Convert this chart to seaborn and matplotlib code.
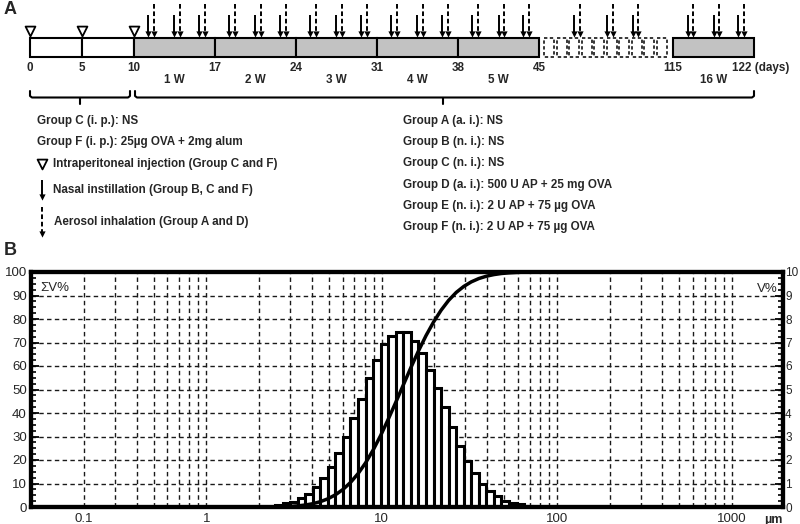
import numpy as np
import pandas as pd
import matplotlib
matplotlib.use("Agg")
import matplotlib.pyplot as plt
import seaborn as sns
from matplotlib.patches import Rectangle
from matplotlib.ticker import MultipleLocator, LogLocator, NullFormatter

# ---------------- Panel A data (schedule) ----------------
day_ticks = [0, 5, 10, 17, 24, 31, 38, 45, 115, 122]
day_tick_labels = ["0", "5", "10", "17", "24", "31", "38", "45", "115", "122 (days)"]
week_starts = [10, 17, 24, 31, 38, 115]
week_labels = ["1 W", "2 W", "3 W", "4 W", "5 W", "16 W"]
ip_days = [0, 5, 10]
dose_offsets = [1.5, 3.75, 5.9]
gap_dose_days = [65, 82, 95.5]
left_texts = ["Group C (i. p.): NS", "Group F (i. p.): 25µg OVA + 2mg alum"]
legend_texts = ["Intraperitoneal injection (Group C and F)",
                "Nasal instillation (Group B, C and F)",
                "Aerosol inhalation (Group A and D)"]
right_texts = ["Group A (a. i.): NS",
               "Group B (n. i.): NS",
               "Group C (n. i.): NS",
               "Group D (a. i.): 500 U AP + 25 mg OVA",
               "Group E (n. i.): 2 U AP + 75 µg OVA",
               "Group F (n. i.): 2 U AP + 75 µg OVA"]

# ---------------- Panel B data (particle size) ----------------
bin_edges_um = [2.466, 2.723, 3.006, 3.320, 3.666, 4.049, 4.471, 4.937, 5.452,
                6.021, 6.648, 7.342, 8.103, 8.948, 9.883, 10.91, 12.05, 13.31,
                14.70, 16.23, 17.92, 19.79, 21.85, 24.13, 26.65, 29.43, 32.49,
                35.88, 39.63, 43.75, 48.31, 53.35, 58.91, 65.06, 71.84]
volume_pct = [0.09, 0.16, 0.23, 0.37, 0.56, 0.87, 1.23, 1.72, 2.29, 3.00, 3.79,
              4.60, 5.50, 6.27, 6.92, 7.29, 7.46, 7.46, 7.08, 6.57, 5.85, 5.06,
              4.24, 3.39, 2.58, 1.96, 1.43, 1.00, 0.69, 0.47, 0.27, 0.18, 0.13, 0.06]
curve_end_um = 100
xtick_pos = [0.2, 1, 10, 100, 1000]
xtick_labels = ["0.1", "1", "10", "100", "1000"]

# ---------------- style ----------------
sns.set_style("white")
plt.rcParams["font.family"] = ["Liberation Sans", "DejaVu Sans"]

W, H = 800, 524
fig = plt.figure(figsize=(8, 5.24), dpi=100)

# ======== Panel A (schematic, pixel layout) ========
axA = fig.add_axes([0, 0, 1, 1])
axA.set_xlim(0, W)
axA.set_ylim(H, 0)
axA.axis("off")

DAY_BREAKS = [0, 10, 45, 115, 122]
X_BREAKS = [30, 133.5, 539, 673, 754]


def dx(d):
    return np.interp(d, DAY_BREAKS, X_BREAKS)


GRAY = "#c2c2c2"
bar_y, bar_h = 38.3, 18.4
for a, b in zip(day_ticks[:-1], day_ticks[1:]):
    if a == 45:
        continue
    fc = "white" if b <= 10 else GRAY
    axA.add_patch(Rectangle((dx(a), bar_y), dx(b) - dx(a), bar_h,
                            facecolor=fc, edgecolor="black", lw=1.5, zorder=2))

# dashed boxes in the gap
n_box = 10
gx0, gx1, ggap = dx(45) + 5, dx(115) - 6, 2.6
bw = (gx1 - gx0 - (n_box - 1) * ggap) / n_box
for i in range(n_box):
    axA.add_patch(Rectangle((gx0 + i * (bw + ggap), bar_y), bw, bar_h,
                            facecolor="white", edgecolor="black", lw=1.1,
                            ls=(0, (2.2, 1.6)), zorder=2))

# arrows
dose_days = [ws + o for ws in week_starts for o in dose_offsets] + gap_dose_days
xs = dx(np.array(dose_days))
sx, dxs = xs - 2.8, xs + 2.8
axA.vlines(sx, 15, 34, colors="black", lw=1.4, zorder=3)
axA.vlines(dxs, 4, 34, colors="black", lw=1.4, linestyles=(0, (2.4, 1.4)), zorder=3)
axA.scatter(sx, np.full(len(sx), 34.0), marker="v", s=20, c="black", lw=0, zorder=4)
axA.scatter(dxs, np.full(len(dxs), 34.0), marker="v", s=20, c="black", lw=0, zorder=4)

# i.p. triangles
axA.scatter(dx(np.array(ip_days)), np.full(len(ip_days), 31.0), marker="v", s=50,
            facecolor="white", edgecolor="black", lw=1.3, zorder=4)

fsA = 8.4
for d, lab in zip(day_ticks, day_tick_labels):
    if lab.endswith("(days)"):
        axA.text(dx(d) - 22, 68, lab, ha="left", va="center", weight="bold",
                 fontsize=fsA, zorder=5)
    else:
        axA.text(dx(d), 68, lab, ha="center", va="center", weight="bold",
                 fontsize=fsA, zorder=5)
for ws, lab in zip(week_starts, week_labels):
    axA.text((dx(ws) + dx(ws + 7)) / 2, 80, lab, ha="center", va="center",
             weight="bold", fontsize=fsA)


def brace(x0, x1, xc, y=97.5):
    axA.plot([x0, x0, x0 + 2, x1 - 2, x1, x1], [91, 96, y, y, 96, 91],
             color="black", lw=1.5, solid_joinstyle="round")
    axA.plot([xc, xc], [y, 104], color="black", lw=1.5)


brace(30, 130, 80)
brace(135, 754, 443)

for i, t in enumerate(left_texts):
    axA.text(37, 121 + 21 * i, t, ha="left", va="center", weight="bold", fontsize=fsA)
axA.scatter([42], [164], marker="v", s=50, facecolor="white", edgecolor="black", lw=1.3)
axA.text(53, 164, legend_texts[0], ha="left", va="center", weight="bold", fontsize=fsA)
axA.vlines([42], 180, 196, colors="black", lw=1.4)
axA.scatter([42], [197], marker="v", s=20, c="black", lw=0)
axA.text(53, 190, legend_texts[1], ha="left", va="center", weight="bold", fontsize=fsA)
axA.vlines([42], 207, 233, colors="black", lw=1.4, linestyles=(0, (2.4, 1.4)))
axA.scatter([42], [234], marker="v", s=20, c="black", lw=0)
axA.text(54, 222, legend_texts[2], ha="left", va="center", weight="bold", fontsize=fsA)
for i, t in enumerate(right_texts):
    axA.text(403, 121 + 21.2 * i, t, ha="left", va="center", weight="bold", fontsize=fsA)

fig.text(4 / W, 1 - 9 / H, "A", ha="left", va="center", weight="bold", fontsize=13)
fig.text(4 / W, 1 - 251 / H, "B", ha="left", va="center", weight="bold", fontsize=13)

# ======== Panel B ========
L, R, T, B = 31, 783, 272, 507
ax = fig.add_axes([L / W, 1 - B / H, (R - L) / W, (B - T) / H])
ax2 = ax.twinx()

edges = np.array(bin_edges_um)
vol = np.array(volume_pct)
centers = np.sqrt(edges[:-1] * edges[1:])
df_bins = pd.DataFrame({"size": centers, "v": vol})
sns.histplot(data=df_bins, x="size", weights="v", bins=list(np.log10(edges)),
             log_scale=True, ax=ax, color="white", edgecolor="black",
             linewidth=2.2, alpha=1, zorder=2)

cum = np.concatenate([[0.0], np.cumsum(vol)])
cum = cum / cum[-1] * 100
df_cum = pd.DataFrame({"size": np.append(edges, curve_end_um), "cum": np.append(cum, 100.0)})
sns.lineplot(data=df_cum, x="size", y="cum", ax=ax2, color="black", lw=2.5, zorder=5)

ax.set_xscale("log")
ax.set_xlim(0.1, 1950)
ax.set_ylim(0, 10)
ax2.set_ylim(0, 100)

ax.set_xticks(xtick_pos)
ax.set_xticklabels(xtick_labels)
ax.xaxis.set_minor_locator(LogLocator(base=10, subs=np.arange(2, 10)))
ax.xaxis.set_minor_formatter(NullFormatter())
ax.tick_params(axis="x", which="both", length=0, pad=4, labelsize=9.5)

ax.yaxis.tick_right()
ax2.yaxis.tick_left()
ax.set_yticks(range(0, 11))
ax.yaxis.set_minor_locator(MultipleLocator(0.25))
ax2.set_yticks(range(0, 101, 10))
ax2.yaxis.set_minor_locator(MultipleLocator(2.5))
for a, lsz, pd_ in ((ax, 8.5, 1.5), (ax2, 9.5, 3)):
    a.tick_params(axis="y", which="major", direction="in", length=6, width=1.3,
                  labelsize=lsz, pad=pd_, color="black")
    a.tick_params(axis="y", which="minor", direction="in", length=3.5, width=1.2,
                  color="black")
    a.set_xlabel("")
    a.set_ylabel("")
    for s in a.spines.values():
        s.set_linewidth(3)
        s.set_color("black")
        s.set_visible(True)

gkw = dict(color="#1a1a1a", lw=1.0, ls=(0, (3.2, 2.4)))
ax.grid(True, which="both", axis="x", **gkw)
ax.grid(True, which="major", axis="y", **gkw)
ax.set_axisbelow(True)

fig.text(40 / W, 1 - 288 / H, "ΣV%", ha="left", va="center", fontsize=9.5)
fig.text(778 / W, 1 - 289 / H, "V%", ha="right", va="center", fontsize=9.5)
fig.text(773 / W, 1 - 519.5 / H, "µm", ha="center", va="center", fontsize=9, weight="bold")

fig.savefig("out.png", dpi=100)
